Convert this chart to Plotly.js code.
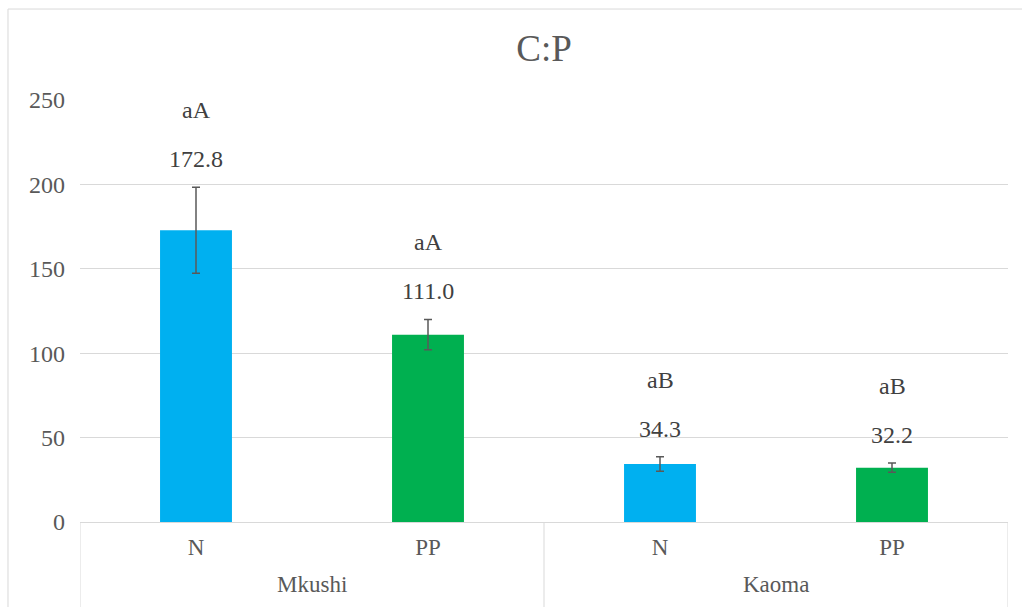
<!DOCTYPE html>
<html>
<head>
<meta charset="utf-8">
<script src="https://cdn.plot.ly/plotly-3.0.1.min.js"></script>
<style>
  html, body { margin: 0; padding: 0; background: #ffffff; }
  #chart { width: 1022px; height: 607px; }
</style>
</head>
<body>
<div id="chart"></div>
<script>
// Data
const sites = ["Mkushi", "Mkushi", "Kaoma", "Kaoma"];
const treatments = ["N", "PP", "N", "PP"];
const values = [172.8, 111.0, 34.3, 32.2];
const errors = [25.5, 9.0, 4.3, 2.8];
const letters = ["aA", "aA", "aB", "aB"];
const barColors = ["#00B0F0", "#00B050", "#00B0F0", "#00B050"];

const serif = "Liberation Serif, DejaVu Serif, serif";
const idx = values.map((_, i) => i);

const trace = {
  type: "bar",
  x: idx,
  y: values,
  marker: { color: barColors, line: { width: 0 } },
  error_y: {
    type: "data",
    array: errors,
    visible: true,
    color: "#595959",
    thickness: 1.5,
    width: 4
  },
  hoverinfo: "none"
};

const annotations = [];
values.forEach((v, i) => {
  annotations.push({
    x: i, y: v + errors[i], xref: "x", yref: "y",
    text: v.toFixed(1), showarrow: false,
    yanchor: "middle", yshift: 28,
    font: { family: serif, size: 24, color: "#404040" }
  });
  annotations.push({
    x: i, y: v + errors[i], xref: "x", yref: "y",
    text: letters[i], showarrow: false,
    yanchor: "middle", yshift: 77,
    font: { family: serif, size: 24, color: "#404040" }
  });
});

// group labels and dividers derived from the site array
const groups = [];
sites.forEach((s, i) => {
  const g = groups.find(o => o.name === s);
  if (g) { g.end = i; } else { groups.push({ name: s, start: i, end: i }); }
});
const shapes = [];
groups.forEach((g, k) => {
  annotations.push({
    x: (g.start + g.end) / 2, y: -0.149, xref: "x", yref: "paper",
    text: g.name, showarrow: false, yanchor: "middle",
    font: { family: serif, size: 23, color: "#595959" }
  });
  const bounds = k === 0 ? [g.start - 0.5, g.end + 0.5] : [g.end + 0.5];
  bounds.forEach(b => shapes.push({
    type: "line", xref: "x", yref: "paper",
    x0: b, x1: b, y0: 0, y1: -0.21,
    line: { color: "#d9d9d9", width: 1 }
  }));
});
shapes.push({
  type: "rect",
  xref: "paper", yref: "paper",
  x0: -0.0776, x1: 1.05,
  y0: -0.3, y1: 1.2156,
  line: { color: "#d9d9d9", width: 1 },
  fillcolor: "rgba(0,0,0,0)",
  layer: "below"
});

const layout = {
  width: 1022,
  height: 607,
  margin: { l: 80, r: 14, t: 100, b: 85 },
  paper_bgcolor: "#ffffff",
  plot_bgcolor: "#ffffff",
  showlegend: false,
  bargap: 0.69,
  font: { family: serif },
  title: {
    text: "C:P",
    x: 0.5, xref: "paper", xanchor: "center",
    y: 0.921, yref: "container", yanchor: "middle",
    font: { family: serif, size: 37, color: "#595959" }
  },
  xaxis: {
    type: "linear",
    range: [-0.5, 3.5],
    tickvals: idx,
    ticktext: treatments,
    showline: true,
    linecolor: "#d9d9d9",
    linewidth: 1,
    showgrid: false,
    zeroline: false,
    ticks: "",
    ticklabelstandoff: 4,
    tickfont: { family: serif, size: 23, color: "#595959" }
  },
  yaxis: {
    range: [0, 250],
    dtick: 50,
    tick0: 0,
    showgrid: true,
    gridcolor: "#d9d9d9",
    gridwidth: 1,
    zeroline: false,
    showline: false,
    ticks: "",
    ticklabelstandoff: 14,
    tickfont: { family: serif, size: 24, color: "#595959" }
  },
  annotations: annotations,
  shapes: shapes
};

Plotly.newPlot("chart", [trace], layout, { displayModeBar: false, staticPlot: true });
</script>
</body>
</html>
